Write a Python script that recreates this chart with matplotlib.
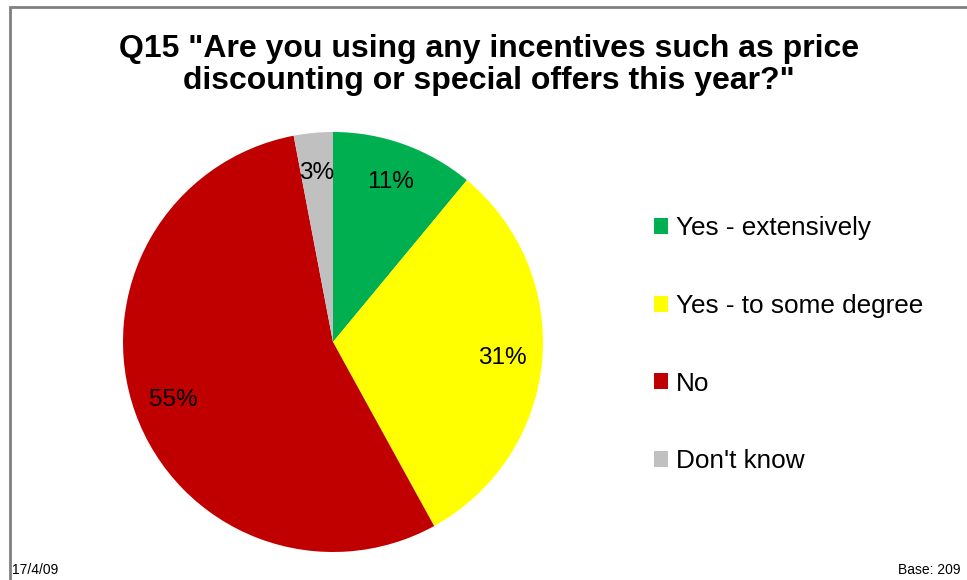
import matplotlib.pyplot as plt
from matplotlib.patches import Patch, Rectangle

plt.rcParams['font.family'] = ['Liberation Sans', 'DejaVu Sans']

labels = ["Yes - extensively", "Yes - to some degree", "No", "Don't know"]
shares = [11, 31, 55, 3]
colors = ["#00B050", "#FFFF00", "#C00000", "#C0C0C0"]

W, H = 967, 580
fig = plt.figure(figsize=(W / 100, H / 100), dpi=100)

# frame round the chart area (open on the right and bottom)
fig.add_artist(Rectangle((10 / W, -0.1), 1.2, (H - 7) / H + 0.1,
                         transform=fig.transFigure, fill=False,
                         edgecolor="#808080", linewidth=2))

title_lines = ['Q15 "Are you using any incentives such as price',
               'discounting or special offers this year?"']
for line, base in zip(title_lines, [57, 89]):
    fig.text(489 / W, 1 - base / H, line, ha="center", va="baseline",
             fontsize=23, fontweight="bold")

# pie: centre (333, 342) px, radius 210 px
cx, cy, r = 333, 342, 210
ax = fig.add_axes([(cx - r) / W, (H - cy - r) / H, 2 * r / W, 2 * r / H])
wedges, _, autotexts = ax.pie(shares, colors=colors, startangle=90,
                              counterclock=False, autopct="%1.0f%%",
                              pctdistance=0.81,
                              textprops={"fontsize": 17.5, "color": "black"},
                              wedgeprops={"linewidth": 0})
ax.set_xlim(-1, 1)
ax.set_ylim(-1, 1)
ax.set_aspect("equal")

handles = [Patch(facecolor=c, edgecolor="none") for c in colors]
fig.legend(handles, labels, loc="upper left",
           bbox_to_anchor=(630 / W, 1 - 193 / H), frameon=False,
           fontsize=18.8, labelspacing=2.05, handlelength=0.55,
           handleheight=0.55, handletextpad=0.3)

fig.text(12 / W, 3 / H, "17/4/09", ha="left", va="bottom", fontsize=10)
fig.text(960 / W, 3 / H, "Base: 209", ha="right", va="bottom", fontsize=10)

fig.savefig("out.png", dpi=100)
